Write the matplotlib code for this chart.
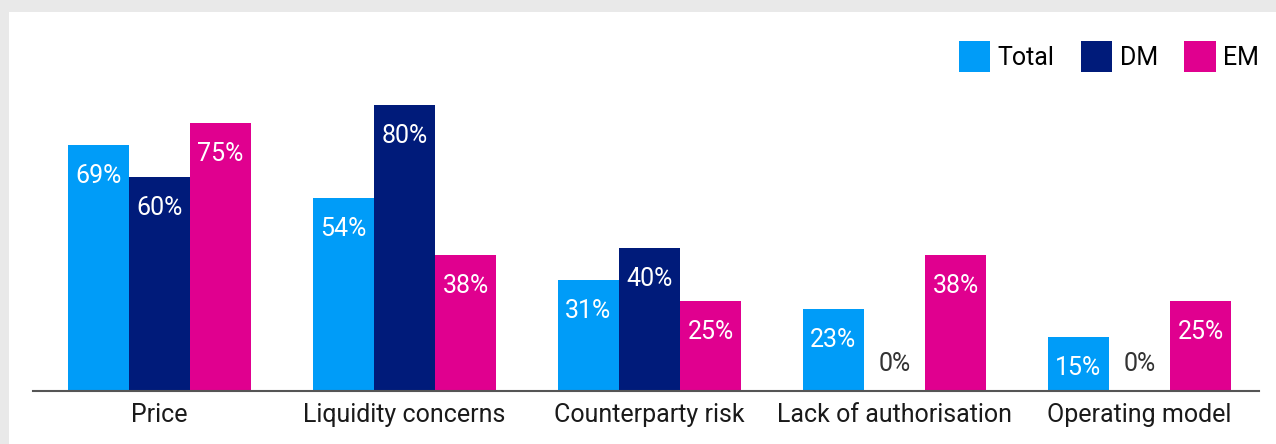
import matplotlib
matplotlib.use("Agg")
import matplotlib.pyplot as plt
import numpy as np
from matplotlib.patches import Rectangle, Patch

categories = ["Price", "Liquidity concerns", "Counterparty risk", "Lack of authorisation", "Operating model"]
series_names = ["Total", "DM", "EM"]
total = [69, 54, 31, 23, 15]
dm = [60, 80, 40, 0, 0]
em = [75, 38, 25, 38, 25]
colors = ["#009cf8", "#001b7a", "#e0008f"]

plt.rcParams['font.family'] = ['Roboto', 'DejaVu Sans']

W, H = 1276, 444
fig = plt.figure(figsize=(W / 100, H / 100), dpi=100)
fig.patch.set_facecolor("#e9e9e9")
fig.patches.append(Rectangle((9 / W, 0), 1 - 9 / W, (H - 12) / H, transform=fig.transFigure,
                             facecolor="white", edgecolor="none", zorder=-10))

ax_left, ax_right = 33 / W, 1259 / W
ax_bottom = (H - 390.5) / H
ax_h = 356.25 / H
ax = fig.add_axes([ax_left, ax_bottom, ax_right - ax_left, ax_h])
ax.set_facecolor("none")

x = np.arange(len(categories))
bw = 0.25
all_series = [total, dm, em]
for i, (name, vals, col) in enumerate(zip(series_names, all_series, colors)):
    bars = ax.bar(x + (i - 1) * bw, vals, width=bw, color=col, label=name, zorder=2)
    for b, v in zip(bars, vals):
        cx = b.get_x() + b.get_width() / 2
        if v > 0:
            ax.annotate(f"{v}%", (cx, v), xytext=(0, -38), textcoords="offset pixels",
                        ha="center", va="baseline", color="white", fontsize=18)
        else:
            ax.annotate(f"{v}%", (cx, 0), xytext=(0, 20), textcoords="offset pixels",
                        ha="center", va="baseline", color="#333333", fontsize=18)

ax.set_xlim(-0.516, 4.488)
ax.set_ylim(0, 100)
ax.set_xticks(x)
ax.set_xticklabels(categories, fontsize=18, color="#1a1a1a")
ax.tick_params(axis="x", length=0, pad=9)
ax.set_yticks([])
for s in ["top", "right", "left"]:
    ax.spines[s].set_visible(False)
ax.spines["bottom"].set_color("#555555")
ax.spines["bottom"].set_linewidth(1.5)
ax.spines["bottom"].set_zorder(3)

handles = [Patch(facecolor=c, edgecolor="none") for c in colors]
fig.legend(handles, series_names, loc="upper right", bbox_to_anchor=(1259 / W, 1 - 41 / H),
           bbox_transform=fig.transFigure, ncol=3, frameon=False, fontsize=18,
           handlelength=1.25, handleheight=1.5, handletextpad=0.3, columnspacing=1.05,
           borderpad=0, borderaxespad=0)

fig.savefig("out.png", dpi=100, facecolor=fig.get_facecolor())
